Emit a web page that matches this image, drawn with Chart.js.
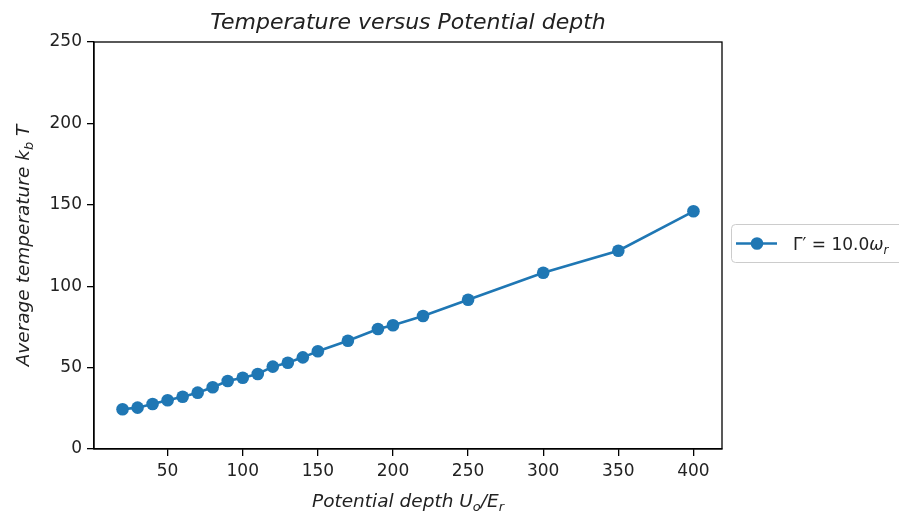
<!DOCTYPE html>
<html>
<head>
<meta charset="utf-8">
<script src="https://cdn.jsdelivr.net/npm/chart.js@4/dist/chart.umd.min.js"></script>
<style>
  body { margin: 0; background: #fff; }
  canvas { display: block; }
</style>
</head>
<body>
<canvas id="grafico" width="899" height="514"></canvas>
<script>
// valores
const depth = [20, 30, 40, 50, 60, 70, 80, 90, 100, 110, 120, 130, 140, 150, 170, 190, 200, 220, 250, 300, 350, 400];
const temperature = [24.4, 25.4, 27.6, 29.9, 32.1, 34.6, 37.9, 41.8, 43.8, 46.1, 50.6, 53.0, 56.3, 60.0, 66.5, 73.7, 76.0, 81.7, 91.7, 108.3, 121.8, 146.0];
const xTicks = [50, 100, 150, 200, 250, 300, 350, 400];
const yTicks = [0, 50, 100, 150, 200, 250];

const azul = '#1f77b4';
const fonte = 'DejaVu Sans';

// escreve pedaços de texto em sequência, com subscrito quando sub = true
function pedacos(ctx, partes, size) {
    let w = 0;
    partes.forEach(p => {
        ctx.font = `italic ${p.sub ? size * 0.7 : size}px "${fonte}"`;
        w += ctx.measureText(p.t).width;
    });
    return w;
}

function escrever(ctx, partes, x, y, size) {
    partes.forEach(p => {
        ctx.font = `italic ${p.sub ? size * 0.7 : size}px "${fonte}"`;
        ctx.fillText(p.t, x, p.sub ? y + size * 0.22 : y);
        x += ctx.measureText(p.t).width;
    });
}

const extras = {
    id: 'extras',
    afterDraw(chart) {
        const ctx = chart.ctx;
        const a = chart.chartArea;
        ctx.save();

        // moldura completa
        ctx.strokeStyle = '#000';
        ctx.lineWidth = 1.3;
        ctx.strokeRect(a.left, a.top, a.right - a.left, a.bottom - a.top);

        ctx.fillStyle = '#222';
        ctx.textBaseline = 'alphabetic';

        // título
        ctx.font = `italic 22px "${fonte}"`;
        ctx.textAlign = 'center';
        ctx.fillText('Temperature versus Potential depth', (a.left + a.right) / 2, 29);
        ctx.textAlign = 'left';

        // rótulo do eixo x
        const labelX = [{ t: 'Potential depth U' }, { t: 'o', sub: true }, { t: '/E' }, { t: 'r', sub: true }];
        let w = pedacos(ctx, labelX, 18.5);
        escrever(ctx, labelX, (a.left + a.right) / 2 - w / 2, 507, 18.5);

        // rótulo do eixo y
        const labelY = [{ t: 'Average temperature k' }, { t: 'b', sub: true }, { t: ' T' }];
        w = pedacos(ctx, labelY, 18.5);
        ctx.save();
        ctx.translate(29, (a.top + a.bottom) / 2);
        ctx.rotate(-Math.PI / 2);
        escrever(ctx, labelY, -w / 2, 0, 18.5);
        ctx.restore();

        // legenda fora do gráfico
        ctx.fillStyle = '#fff';
        ctx.strokeStyle = '#ccc';
        ctx.lineWidth = 1;
        ctx.beginPath();
        ctx.roundRect(731.5, 224.5, 180, 38, 4);
        ctx.fill();
        ctx.stroke();

        ctx.strokeStyle = azul;
        ctx.lineWidth = 2.6;
        ctx.beginPath();
        ctx.moveTo(736, 243.5);
        ctx.lineTo(777, 243.5);
        ctx.stroke();
        ctx.fillStyle = azul;
        ctx.beginPath();
        ctx.arc(757, 243.5, 6.3, 0, Math.PI * 2);
        ctx.fill();

        ctx.fillStyle = '#222';
        let x = 793;
        ctx.font = `17px "${fonte}"`;
        ctx.fillText('Γ′ = 10.0', x, 250);
        x += ctx.measureText('Γ′ = 10.0').width;
        ctx.font = `italic 17px "${fonte}"`;
        ctx.fillText('ω', x, 250);
        x += ctx.measureText('ω').width;
        ctx.font = `italic 12px "${fonte}"`;
        ctx.fillText('r', x, 254);

        ctx.restore();
    }
};

const pontos = depth.map((d, i) => ({ x: d, y: temperature[i] }));

new Chart(document.getElementById('grafico'), {
    type: 'line',
    data: {
        datasets: [{
            label: "Γ' = 10.0ωr",
            data: pontos,
            borderColor: azul,
            backgroundColor: azul,
            borderWidth: 2.6,
            pointRadius: 6.3,
            pointBorderWidth: 0,
            pointBackgroundColor: azul,
            tension: 0
        }]
    },
    options: {
        responsive: false,
        animation: false,
        devicePixelRatio: 1,
        layout: { padding: { top: 42, right: 177, left: 0, bottom: 0 } },
        plugins: {
            legend: { display: false },
            title: { display: false },
            tooltip: { enabled: false }
        },
        scales: {
            x: {
                type: 'linear',
                min: 1,
                max: 419,
                afterBuildTicks: s => { s.ticks = xTicks.map(v => ({ value: v })); },
                afterFit: s => { s.height = 65; },
                grid: { drawOnChartArea: false, drawTicks: true, tickLength: 7, color: '#000', lineWidth: 1.3 },
                border: { display: true, color: '#000', width: 1.3 },
                ticks: { color: '#222', padding: 5, maxRotation: 0, font: { family: fonte, size: 17 } }
            },
            y: {
                min: 0,
                max: 250,
                afterBuildTicks: s => { s.ticks = yTicks.map(v => ({ value: v })); },
                afterFit: s => { s.width = 94; },
                grid: { drawOnChartArea: false, drawTicks: true, tickLength: 7, color: '#000', lineWidth: 1.3 },
                border: { display: true, color: '#000', width: 1.3 },
                ticks: { color: '#222', padding: 5, font: { family: fonte, size: 17 } }
            }
        }
    },
    plugins: [extras]
});
</script>
</body>
</html>
